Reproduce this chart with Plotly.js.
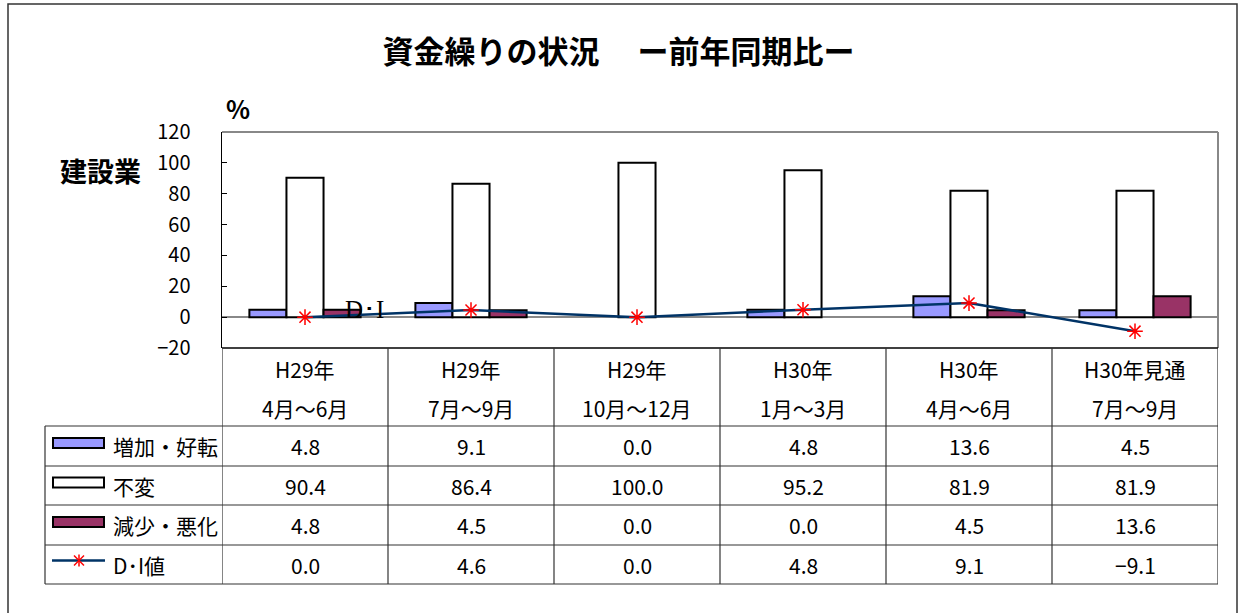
<!DOCTYPE html>
<html>
<head>
<meta charset="utf-8">
<script src="https://cdn.plot.ly/plotly-3.0.1.min.js"></script>
<style>html,body{margin:0;padding:0;background:#fff;}#chart{width:1245px;height:613px;}</style>
</head>
<body>
<div id="chart"></div>
<script>
// ---- data ----
var categories = ['c1','c2','c3','c4','c5','c6'];
var yearLabels = ['H29年','H29年','H29年','H30年','H30年','H30年見通'];
var monthLabels = ['4月～6月','7月～9月','10月～12月','1月～3月','4月～6月','7月～9月'];
var seriesNames = ['増加・好転','不変','減少・悪化','D･I値'];
var increase = [4.8, 9.1, 0.0, 4.8, 13.6, 4.5];
var unchanged = [90.4, 86.4, 100.0, 95.2, 81.9, 81.9];
var decrease = [4.8, 4.5, 0.0, 0.0, 4.5, 13.6];
var di = [0.0, 4.6, 0.0, 4.8, 9.1, -9.1];
var yTicks = [-20, 0, 20, 40, 60, 80, 100, 120];

// ---- layout helpers (pixel -> paper) ----
var W = 1245, H = 613, L = 222, R = 1218, T = 132, B = 348;
function X(px){ return (px - L) / (R - L); }
function Y(py){ return (B - py) / (B - T); }

var FONT = 'Noto Sans CJK JP, Liberation Sans, sans-serif';
var CJK = 'Noto Sans CJK JP, sans-serif';
var lineCol = '#333333';

function borderWidths(arr){ return arr.map(function(v){ return v === 0 ? 0 : 2; }); }

var traces = [
  {type:'bar', name:seriesNames[0], x:categories, y:increase,
   marker:{color:'#9999FF', line:{color:'#000', width:borderWidths(increase)}}},
  {type:'bar', name:seriesNames[1], x:categories, y:unchanged,
   marker:{color:'#FFFFFF', line:{color:'#000', width:borderWidths(unchanged)}}},
  {type:'bar', name:seriesNames[2], x:categories, y:decrease,
   marker:{color:'#993366', line:{color:'#000', width:borderWidths(decrease)}}},
  {type:'scatter', mode:'lines+markers', name:seriesNames[3], x:categories, y:di,
   line:{color:'#003366', width:2.5},
   marker:{symbol:'asterisk-open', size:13, color:'#FF0000', line:{color:'#FF0000', width:1.5}}}
];

var shapes = [];
var annotations = [];

// outer frame
shapes.push({type:'rect', xref:'paper', yref:'paper', x0:X(8), x1:X(1237), y0:Y(640), y1:Y(4),
  line:{color:lineCol, width:1.5}, fillcolor:'rgba(0,0,0,0)', layer:'below'});
// plot area border (top & right, gray)
shapes.push({type:'line', xref:'paper', yref:'paper', x0:0, x1:1, y0:1, y1:1, line:{color:'#888', width:2}});
shapes.push({type:'line', xref:'paper', yref:'paper', x0:1, x1:1, y0:0, y1:1, line:{color:'#888', width:2}});

// table horizontal lines
var rowLines = [426, 466, 505, 545, 584];
shapes.push({type:'line', xref:'paper', yref:'paper', x0:0, x1:1, y0:0, y1:0, line:{color:'#000', width:1.5}});
rowLines.forEach(function(py){
  shapes.push({type:'line', xref:'paper', yref:'paper', x0:X(45), x1:1, y0:Y(py), y1:Y(py), line:{color:lineCol, width:1.2}});
});
// table vertical lines
shapes.push({type:'line', xref:'paper', yref:'paper', x0:X(45), x1:X(45), y0:Y(426), y1:Y(584), line:{color:lineCol, width:1.2}});
for (var i = 0; i <= categories.length; i++) {
  shapes.push({type:'line', xref:'x', yref:'paper', x0:i-0.5, x1:i-0.5, y0:0, y1:Y(584), line:{color:lineCol, width:1.2}});
}

// header labels
categories.forEach(function(c, i){
  annotations.push({xref:'x', yref:'paper', x:i, y:Y(369), text:yearLabels[i], showarrow:false,
    font:{family:FONT, size:21, color:'#000'}, xanchor:'center', yanchor:'middle'});
  annotations.push({xref:'x', yref:'paper', x:i, y:Y(408), text:monthLabels[i], showarrow:false,
    font:{family:FONT, size:21, color:'#000'}, xanchor:'center', yanchor:'middle'});
});

// table values
var tableSeries = [increase, unchanged, decrease, di];
var rowCenters = [446, 485.5, 525, 564.5];
tableSeries.forEach(function(arr, r){
  arr.forEach(function(v, i){
    annotations.push({xref:'x', yref:'paper', x:i, y:Y(rowCenters[r]),
      text:v.toFixed(1).replace('-', '−'), showarrow:false,
      font:{family:FONT, size:21, color:'#000'}, xanchor:'center', yanchor:'middle'});
  });
  annotations.push({xref:'paper', yref:'paper', x:X(111), y:Y(rowCenters[r]), text:seriesNames[r],
    showarrow:false, font:{family:FONT, size:21, color:'#000'}, xanchor:'left', yanchor:'middle'});
});

// legend swatches
var swatchFill = ['#9999FF', '#FFFFFF', '#993366'];
for (var r = 0; r < 3; r++) {
  var cy = rowCenters[r] - 3;
  shapes.push({type:'rect', xref:'paper', yref:'paper', x0:X(53), x1:X(104), y0:Y(cy+5), y1:Y(cy-5),
    fillcolor:swatchFill[r], line:{color:'#000', width:2}});
}
var dy = rowCenters[3] - 4;
shapes.push({type:'line', xref:'paper', yref:'paper', x0:X(52), x1:X(105), y0:Y(dy), y1:Y(dy), line:{color:'#003366', width:2.5}});
shapes.push({type:'line', xref:'paper', yref:'paper', x0:X(79), x1:X(79), y0:Y(dy-6), y1:Y(dy+6), line:{color:'#FF0000', width:1.5}});
shapes.push({type:'line', xref:'paper', yref:'paper', x0:X(74), x1:X(84), y0:Y(dy-5), y1:Y(dy+5), line:{color:'#FF0000', width:1.5}});
shapes.push({type:'line', xref:'paper', yref:'paper', x0:X(74), x1:X(84), y0:Y(dy+5), y1:Y(dy-5), line:{color:'#FF0000', width:1.5}});

// other texts
annotations.push({xref:'paper', yref:'paper', x:X(238), y:Y(108), text:'<b>%</b>', showarrow:false,
  font:{family:CJK, size:25, color:'#000'}, xanchor:'center', yanchor:'middle'});
annotations.push({xref:'paper', yref:'paper', x:X(100), y:Y(170), text:'<b>建設業</b>', showarrow:false,
  font:{family:CJK, size:27, color:'#000'}, xanchor:'center', yanchor:'middle'});
annotations.push({xref:'x', yref:'y', x:0.36, y:5.0, text:'D･I', showarrow:false,
  font:{family:'Liberation Serif, serif', size:25, color:'#000'}, xanchor:'center', yanchor:'middle'});

var layout = {
  width:W, height:H,
  margin:{l:L, r:W-R, t:T, b:H-B, pad:0},
  paper_bgcolor:'#fff', plot_bgcolor:'#fff',
  title:{text:'<b>資金繰りの状況　 ー前年同期比ー</b>', x:0.4968, xanchor:'center', y:1-52/613, yanchor:'middle',
    font:{family:CJK, size:31, color:'#000'}},
  barmode:'group', bargap:0.33, bargroupgap:0,
  showlegend:false,
  xaxis:{type:'category', showticklabels:false, ticks:'', showgrid:false, zeroline:false, showline:false,
    range:[-0.5, 5.5], fixedrange:true},
  yaxis:{range:[-20,120], tickvals:yTicks, ticks:'inside', ticklen:5, tickcolor:'#000',
    showline:true, linecolor:'#000', linewidth:1.5, showgrid:false,
    zeroline:true, zerolinecolor:'#888', zerolinewidth:1.5,
    ticklabelstandoff:26, tickfont:{family:FONT, size:20, color:'#000'}},
  shapes:shapes, annotations:annotations
};

Plotly.newPlot('chart', traces, layout, {staticPlot:true});
</script>
</body>
</html>
